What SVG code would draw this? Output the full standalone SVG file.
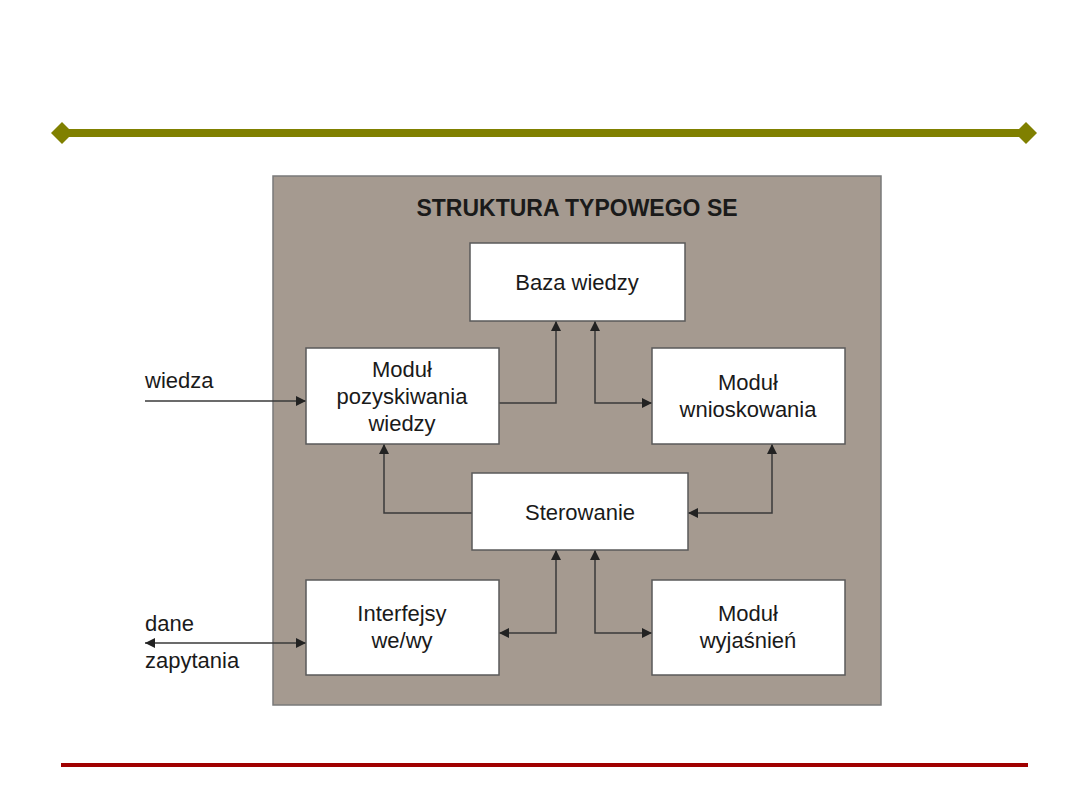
<svg xmlns="http://www.w3.org/2000/svg" width="1080" height="810" viewBox="0 0 1080 810">
<style>
.t{font-family:"Liberation Sans",Arial,sans-serif;font-size:22px;fill:#1a1a1a;text-anchor:middle}
.lbl{font-family:"Liberation Sans",Arial,sans-serif;font-size:22px;fill:#1a1a1a}
.box{fill:#ffffff;stroke:#5a5a5a;stroke-width:1.5}
.c{fill:none;stroke:#3a3a3a;stroke-width:1.5}
</style>
<defs>
<marker id="ah" viewBox="0 0 10 10" refX="10" refY="5" markerWidth="10" markerHeight="10" markerUnits="userSpaceOnUse" orient="auto-start-reverse">
<path d="M0,0 L10,5 L0,10 z" fill="#222"/>
</marker>
</defs>
<rect width="1080" height="810" fill="#ffffff"/>
<g id="deco">
<rect x="60" y="129" width="966" height="8" fill="#808000"/>
<polygon points="62,122 73,133 62,144 51,133" fill="#808000"/>
<polygon points="1026,122 1037,133 1026,144 1015,133" fill="#808000"/>
<rect x="61" y="763" width="967" height="4" fill="#a00000"/>
</g>
<g id="frame">
<rect x="273" y="176" width="608" height="529" fill="#a59a90" stroke="#7a7a7a" stroke-width="1.5"/>
<text x="577" y="216" class="t" style="font-weight:bold;font-size:23px">STRUKTURA TYPOWEGO SE</text>
</g>
<g id="connectors">
<path class="c" d="M145,401 H306" marker-end="url(#ah)"/>
<path class="c" d="M499,403 H556 V321" marker-end="url(#ah)"/>
<path class="c" d="M595,321 V403 H652" marker-start="url(#ah)" marker-end="url(#ah)"/>
<path class="c" d="M472,513 H384 V444" marker-end="url(#ah)"/>
<path class="c" d="M688,513 H772 V444" marker-start="url(#ah)" marker-end="url(#ah)"/>
<path class="c" d="M499,633 H556 V550" marker-start="url(#ah)" marker-end="url(#ah)"/>
<path class="c" d="M595,550 V633 H652" marker-start="url(#ah)" marker-end="url(#ah)"/>
<path class="c" d="M145,643 H306" marker-start="url(#ah)" marker-end="url(#ah)"/>
</g>
<g id="labels">
<text x="145" y="388" class="lbl">wiedza</text>
<text x="145" y="631" class="lbl">dane</text>
<text x="145" y="668" class="lbl">zapytania</text>
</g>
<g id="baza">
<rect class="box" x="470" y="243" width="215" height="78"/>
<text x="577" y="290" class="t">Baza wiedzy</text>
</g>
<g id="pozyskiwanie">
<rect class="box" x="306" y="348" width="193" height="96"/>
<text x="402" y="377" class="t">Moduł</text>
<text x="402" y="404" class="t">pozyskiwania</text>
<text x="402" y="431" class="t">wiedzy</text>
</g>
<g id="wnioskowanie">
<rect class="box" x="652" y="348" width="193" height="96"/>
<text x="748" y="390" class="t">Moduł</text>
<text x="748" y="417" class="t">wnioskowania</text>
</g>
<g id="sterowanie">
<rect class="box" x="472" y="473" width="216" height="77"/>
<text x="580" y="520" class="t">Sterowanie</text>
</g>
<g id="interfejsy">
<rect class="box" x="306" y="580" width="193" height="95"/>
<text x="402" y="621" class="t">Interfejsy</text>
<text x="402" y="648" class="t">we/wy</text>
</g>
<g id="wyjasnienia">
<rect class="box" x="652" y="580" width="193" height="95"/>
<text x="748" y="621" class="t">Moduł</text>
<text x="748" y="648" class="t">wyjaśnień</text>
</g>
</svg>
